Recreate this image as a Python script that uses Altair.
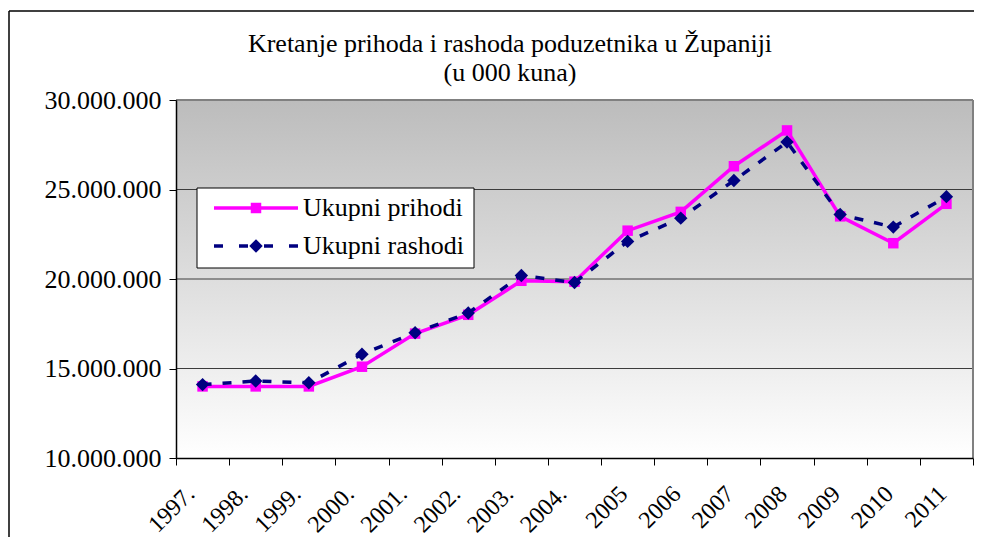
import altair as alt
import pandas as pd

years = ["1997.", "1998.", "1999.", "2000.", "2001.", "2002.", "2003.", "2004.",
         "2005", "2006", "2007", "2008", "2009", "2010", "2011"]
prihodi = [14000000, 14000000, 14000000, 15100000, 16950000, 18000000, 19900000, 19850000,
           22700000, 23750000, 26300000, 28300000, 23500000, 22000000, 24200000]
rashodi = [14100000, 14300000, 14200000, 15800000, 17000000, 18100000, 20200000, 19800000,
           22100000, 23400000, 25500000, 27650000, 23600000, 22900000, 24600000]
series_names = ["Ukupni prihodi", "Ukupni rashodi"]
title_lines = ["Kretanje prihoda i rashoda poduzetnika u Županiji", "(u 000 kuna)"]
y_ticks = [10000000, 15000000, 20000000, 25000000, 30000000]

W, H = 797, 358
FONT = "Liberation Serif"
MAGENTA = "#ff00ff"
NAVY = "#000080"

df = pd.DataFrame({
    "year": years * 2,
    "series": [series_names[0]] * len(years) + [series_names[1]] * len(years),
    "value": prihodi + rashodi,
})

y_scale = alt.Scale(domain=[y_ticks[0], y_ticks[-1]], nice=False)
y_axis = alt.Axis(title=None, values=y_ticks, grid=False, tickSize=7, tickColor="black",
                  domainColor="black", domainWidth=1.5, labelFont=FONT, labelFontSize=26,
                  labelColor="black", labelPadding=8, zindex=1,
                  labelExpr="replace(format(datum.value, ','), regexp(',', 'g'), '.')")

x_enc = alt.X("year:N", sort=years, bandPosition=0.5,
              scale=alt.Scale(type="band", paddingInner=0, paddingOuter=0),
              axis=alt.Axis(title=None, tickBand="extent", labelAngle=315, labelAlign="right",
                            labelBaseline="middle", labelPadding=25, labelFont=FONT,
                            labelFontSize=24, labelColor="black", tickSize=7, tickColor="black",
                            labelOffset={"condition": {"test": "indexof(datum.label, '.') > 0",
                                                       "value": -12}, "value": -4},
                            domainColor="black", domainWidth=1.5, tickWidth=1, grid=False,
                            zindex=1))
y_enc = alt.Y("value:Q", scale=y_scale, axis=y_axis)

base = alt.Chart(df)
one = pd.DataFrame({"a": [0]})

background = alt.Chart(one).mark_rect(
    fill={"gradient": "linear", "x1": 0, "y1": 0, "x2": 0, "y2": 1,
          "stops": [{"offset": 0, "color": "#bcbcbc"}, {"offset": 1, "color": "#ffffff"}]}
).encode(x=alt.value(0), x2=alt.value(W), y=alt.value(0), y2=alt.value(H))

# plot-area border (gray top and right edges)
border_top = alt.Chart(one).mark_rule(color="#808080", strokeWidth=2).encode(
    x=alt.value(0), x2=alt.value(W), y=alt.value(0))
border_right = alt.Chart(one).mark_rule(color="#808080", strokeWidth=2).encode(
    x=alt.value(W), y=alt.value(0), y2=alt.value(H))

grid = alt.Chart(pd.DataFrame({"value": y_ticks})).transform_filter(
    f"datum.value > {y_ticks[0]} && datum.value < {y_ticks[-1]}"
).mark_rule(color="#3c3c3c", strokeWidth=1).encode(y=y_enc)

line_p = base.transform_filter(alt.datum.series == series_names[0]).mark_line(
    color=MAGENTA, strokeWidth=3.5).encode(x=x_enc, y=y_enc)
pts_p = base.transform_filter(alt.datum.series == series_names[0]).mark_point(
    shape="square", filled=True, color=MAGENTA, size=110, opacity=1).encode(x=x_enc, y=y_enc)
line_r = base.transform_filter(alt.datum.series == series_names[1]).mark_line(
    color=NAVY, strokeWidth=3.5, strokeDash=[9, 11]).encode(x=x_enc, y=y_enc)
pts_r = base.transform_filter(alt.datum.series == series_names[1]).mark_point(
    shape="diamond", filled=True, color=NAVY, size=180, opacity=1).encode(x=x_enc, y=y_enc)

# legend (drawn inside the plot, top-left)
leg_box = alt.Chart(one).mark_rect(fill="white", stroke="black", strokeWidth=1).encode(
    x=alt.value(21), x2=alt.value(298), y=alt.value(88), y2=alt.value(168))
leg_l1 = alt.Chart(one).mark_rule(color=MAGENTA, strokeWidth=3.5).encode(
    x=alt.value(38), x2=alt.value(122), y=alt.value(108))
leg_p1 = alt.Chart(one).mark_point(shape="square", filled=True, color=MAGENTA, size=110,
                                   opacity=1).encode(x=alt.value(80), y=alt.value(108))
leg_l2 = alt.Chart(one).mark_rule(color=NAVY, strokeWidth=3.5, strokeDash=[9, 16]).encode(
    x=alt.value(38), x2=alt.value(122), y=alt.value(146))
leg_p2 = alt.Chart(one).mark_point(shape="diamond", filled=True, color=NAVY, size=180,
                                   opacity=1).encode(x=alt.value(80), y=alt.value(146))
leg_t1 = alt.Chart(one).mark_text(align="left", baseline="middle", font=FONT, fontSize=26,
                                  color="black").encode(
    x=alt.value(127), y=alt.value(108), text=alt.value(series_names[0]))
leg_t2 = alt.Chart(one).mark_text(align="left", baseline="middle", font=FONT, fontSize=26,
                                  color="black").encode(
    x=alt.value(127), y=alt.value(146), text=alt.value(series_names[1]))

# chart title (two lines)
title1 = alt.Chart(one).mark_text(align="center", baseline="alphabetic", font=FONT, fontSize=26,
                                  color="black", clip=False).encode(
    x=alt.value(334), y=alt.value(-48), text=alt.value(title_lines[0]))
title2 = alt.Chart(one).mark_text(align="center", baseline="alphabetic", font=FONT, fontSize=26,
                                  color="black", clip=False).encode(
    x=alt.value(334), y=alt.value(-19), text=alt.value(title_lines[1]))

# outer frame (left and top edges visible in the reference)
frame_left = alt.Chart(one).mark_rule(color="black", strokeWidth=1.5, clip=False).encode(
    x=alt.value(-167), y=alt.value(-89), y2=alt.value(H + 150))
frame_top = alt.Chart(one).mark_rule(color="black", strokeWidth=1.5, clip=False).encode(
    x=alt.value(-167), x2=alt.value(W + 1), y=alt.value(-89))

chart = alt.layer(
    background, grid, border_top, border_right, line_p, pts_p, line_r, pts_r,
    leg_box, leg_l1, leg_p1, leg_l2, leg_p2, leg_t1, leg_t2,
    title1, title2, frame_left, frame_top
).properties(
    width=W, height=H,
    padding={"left": 168, "top": 92, "right": 1, "bottom": 79},
    autosize=alt.AutoSizeParams(type="none"),
).configure_view(strokeWidth=0).configure(background="white")

chart.save("out.html", embed_options={"renderer": "svg", "actions": False})
